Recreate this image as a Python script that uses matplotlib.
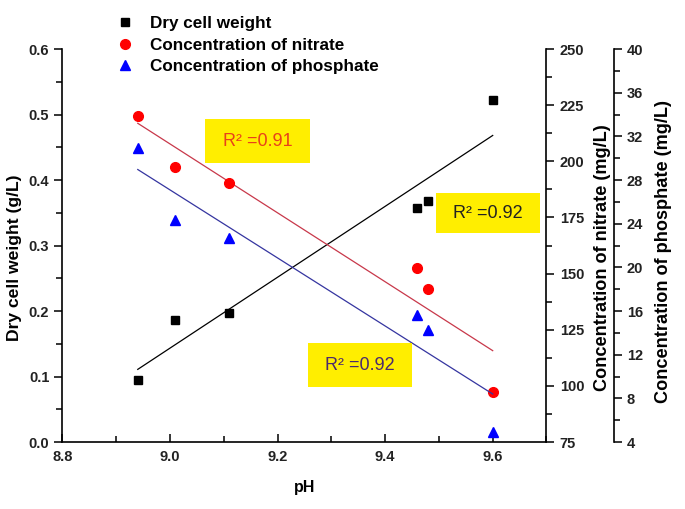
import numpy as np
import matplotlib.pyplot as plt
from matplotlib.ticker import MultipleLocator
from matplotlib.patches import Rectangle

plt.rcParams['font.family'] = ['Liberation Sans', 'DejaVu Sans']

# values
ph = [8.94, 9.01, 9.11, 9.46, 9.48, 9.60]
dry_cell = [0.095, 0.187, 0.197, 0.357, 0.368, 0.522]
nitrate = [220.2, 197.4, 190.5, 152.3, 143.1, 97.4]
phosphate = [30.9, 24.3, 22.7, 15.6, 14.3, 4.9]
r2_text = ["R\u00b2 =0.91", "R\u00b2 =0.92", "R\u00b2 =0.92"]

W, H = 685, 509
fig = plt.figure(figsize=(6.85, 5.09), dpi=100)
ax = fig.add_axes([0.0912, 0.1316, 0.7066, 0.7721])
ax2 = ax.twinx()
ax3 = ax.twinx()
ax3.spines['right'].set_position(('axes', 1.139))

x = np.array(ph)
xfit = np.array([min(ph), max(ph)])

def fit(y):
    k, b = np.polyfit(x, np.array(y), 1)
    return k * xfit + b

ax.plot(xfit, fit(dry_cell), color='black', lw=0.9)
ax2.plot(xfit, fit(nitrate), color='#c8384a', lw=0.9)
ax3.plot(xfit, fit(phosphate), color='#3535a0', lw=0.9)

h1, = ax.plot(ph, dry_cell, 's', color='black', ms=6.3, ls='none')
h2, = ax2.plot(ph, nitrate, 'o', color='#ff0000', ms=7, ls='none')
h3, = ax3.plot(ph, phosphate, '^', color='#0000ff', ms=7.5, ls='none')

ax.set_xlim(8.8, 9.7)
ax.set_ylim(0, 0.6)
ax2.set_ylim(75, 250)
ax3.set_ylim(4, 40)

ax.xaxis.set_major_locator(MultipleLocator(0.2))
ax.xaxis.set_minor_locator(MultipleLocator(0.1))
ax.yaxis.set_major_locator(MultipleLocator(0.1))
ax.yaxis.set_minor_locator(MultipleLocator(0.05))
ax2.yaxis.set_major_locator(MultipleLocator(25))
ax2.yaxis.set_minor_locator(MultipleLocator(12.5))
ax3.yaxis.set_major_locator(MultipleLocator(4))
ax3.yaxis.set_minor_locator(MultipleLocator(2))

ax.xaxis.set_major_formatter(plt.FormatStrFormatter('%.1f'))
ax.yaxis.set_major_formatter(plt.FormatStrFormatter('%.1f'))

for a in (ax, ax2, ax3):
    a.spines['top'].set_visible(False)
    a.patch.set_visible(False)
ax.spines['right'].set_visible(False)
ax2.spines['left'].set_visible(False)
ax3.spines['left'].set_visible(False)
ax2.spines['bottom'].set_visible(False)
ax3.spines['bottom'].set_visible(False)
for a in (ax, ax2, ax3):
    for s in a.spines.values():
        s.set_linewidth(1.2)

ax.tick_params(axis='x', direction='in', length=6, width=1.1, labelsize=10.5, pad=6)
ax.tick_params(axis='x', which='minor', direction='in', length=4, width=1.1)
ax.tick_params(axis='y', direction='out', length=6, width=1.1, labelsize=10.5)
ax.tick_params(axis='y', which='minor', direction='out', length=4, width=1.1)
for a in (ax2, ax3):
    a.tick_params(axis='y', direction='out', length=6, width=1.1, labelsize=10.5)
    a.tick_params(axis='y', which='minor', direction='out', length=4, width=1.1)

for a in (ax, ax2, ax3):
    for lab in a.get_xticklabels() + a.get_yticklabels():
        lab.set_fontweight('bold')
        lab.set_color('#222222')

ax.set_xlabel('pH', fontsize=11.5, fontweight='bold', labelpad=11)
ax.set_ylabel('Dry cell weight (g/L)', fontsize=12.6, fontweight='bold', labelpad=5)
ax2.set_ylabel('Concentration of nitrate (mg/L)', fontsize=13.1, fontweight='bold', labelpad=7)
ax3.set_ylabel('Concentration of phosphate (mg/L)', fontsize=13.1, fontweight='bold', labelpad=8)
ax.yaxis.label.set_y(0.47)
ax2.yaxis.label.set_y(0.47)
ax3.yaxis.label.set_y(0.485)

fig.legend([h1, h2, h3],
           ['Dry cell weight', 'Concentration of nitrate', 'Concentration of phosphate'],
           loc='upper left', bbox_to_anchor=(0.1475, 0.998), frameon=False,
           handlelength=1.0, handletextpad=0.96, labelspacing=0.36,
           prop={'size': 12.3, 'weight': 'bold'})

# yellow R² boxes (pixel corners from the reference)
boxes = [(205, 119, 310, 163), (436, 193, 540, 233), (308, 343, 412, 387)]
colors = ['#e8411a', '#222222', '#4b2a6e']
for (x0, y0, x1, y1), txt, c in zip(boxes, r2_text, colors):
    fig.patches.append(Rectangle((x0 / W, 1 - y1 / H), (x1 - x0) / W, (y1 - y0) / H,
                                 transform=fig.transFigure, facecolor='#ffee00',
                                 edgecolor='none', zorder=5))
    fig.text((x0 + x1) / 2 / W, 1 - (y0 + y1) / 2 / H, txt, color=c, fontsize=13,
             ha='center', va='center', zorder=6)

fig.savefig('out.png', dpi=100)
